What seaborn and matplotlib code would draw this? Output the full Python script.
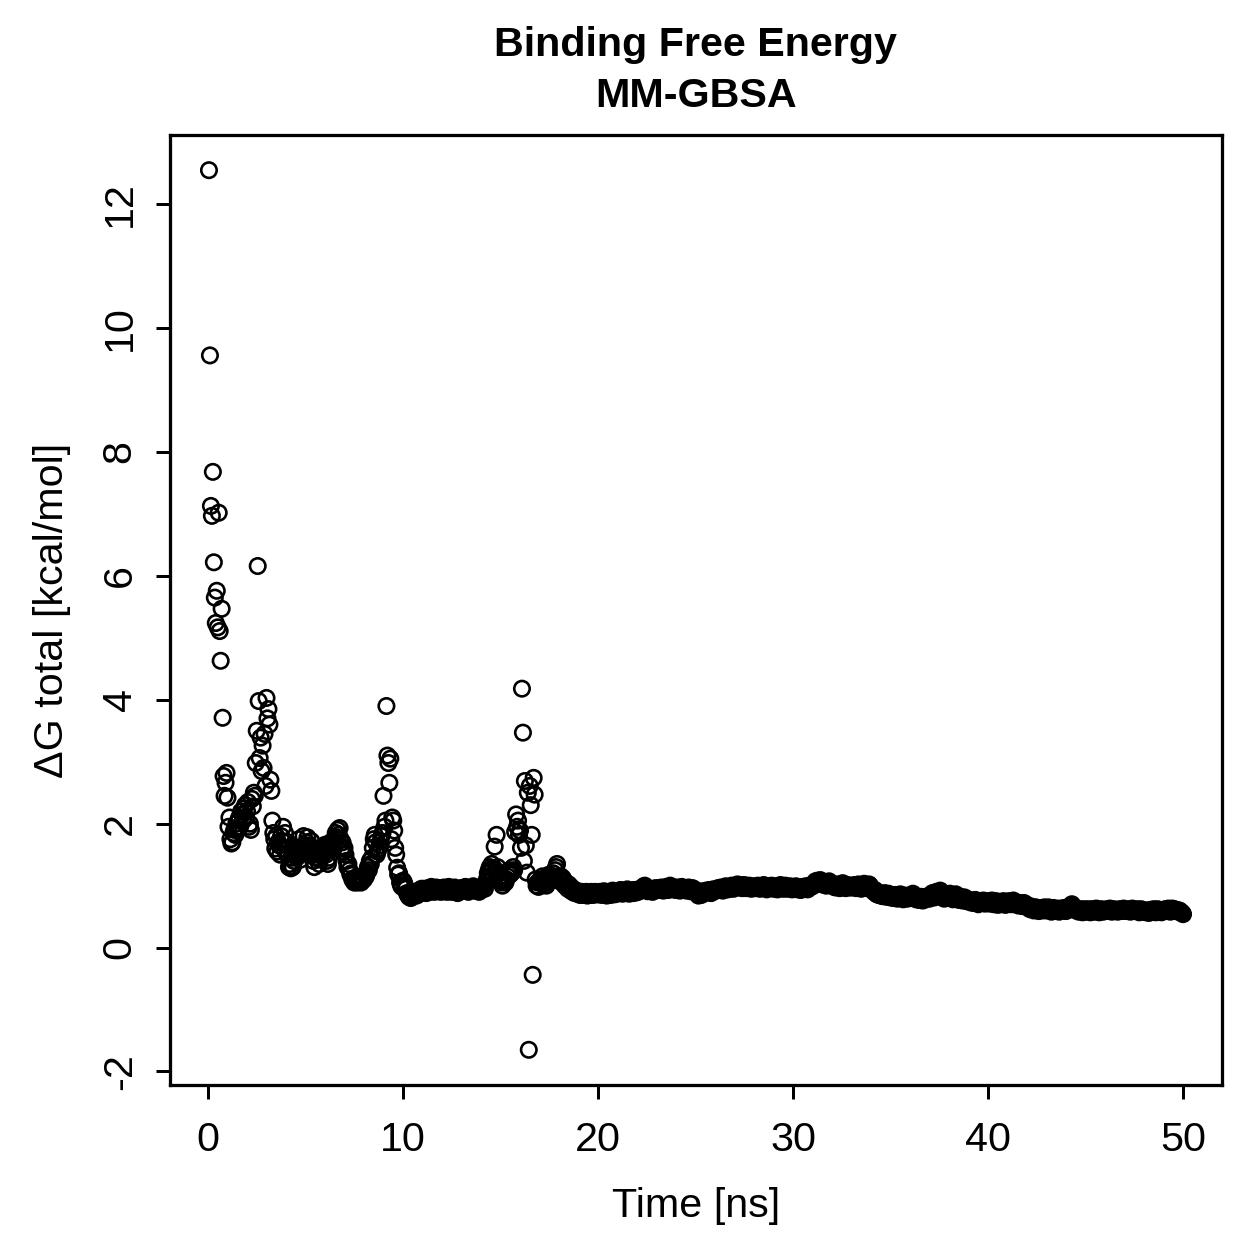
import numpy as np
import pandas as pd
import seaborn as sns
import matplotlib
matplotlib.use("Agg")
import matplotlib.pyplot as plt

# MM-GBSA binding free energy per frame, one frame every 0.05 ns
# (one line below = 1 ns = 20 frames)
dg_total = [
    12.55, 9.56, 7.13, 6.97, 7.68, 6.22, 5.65, 5.24, 5.76, 5.17, 7.02, 5.11, 4.63, 5.47, 3.71, 2.77, 2.45, 2.66, 2.82, 2.42,
    1.95, 2.1, 1.75, 1.68, 1.7, 1.85, 1.9, 1.82, 2.0, 1.9, 2.05, 2.1, 1.95, 2.2, 2.15, 2.05, 2.25, 2.3, 2.1, 2.2,
    2.35, 1.95, 2.0, 1.9, 2.4, 2.28, 2.5, 2.45, 2.98, 3.5, 6.16, 3.98, 3.06, 3.39, 2.85, 3.26, 2.9, 3.45, 2.61, 4.03,
    3.7, 3.85, 3.6, 2.71, 2.53, 2.05, 1.85, 1.75, 1.6, 1.8, 1.55, 1.7, 1.65, 1.5, 1.8, 1.72, 1.95, 1.6, 1.85, 1.7,
    1.5, 1.7, 1.3, 1.35, 1.28, 1.45, 1.3, 1.4, 1.55, 1.5, 1.45, 1.6, 1.75, 1.5, 1.42, 1.55, 1.6, 1.8, 1.65, 1.55,
    1.7, 1.78, 1.55, 1.65, 1.6, 1.72, 1.5, 1.4, 1.3, 1.45, 1.5, 1.6, 1.55, 1.35, 1.42, 1.5, 1.48, 1.62, 1.55, 1.66,
    1.5, 1.4, 1.35, 1.45, 1.58, 1.7, 1.65, 1.72, 1.6, 1.75, 1.85, 1.78, 1.9, 1.82, 1.93, 1.75, 1.6, 1.7, 1.55, 1.61,
    1.5, 1.4, 1.3, 1.35, 1.25, 1.18, 1.2, 1.1, 1.08, 1.05, 1.1, 1.08, 1.05, 1.12, 1.08, 1.1, 1.05, 1.08, 1.12, 1.1,
    1.18, 1.15, 1.2, 1.3, 1.25, 1.4, 1.35, 1.45, 1.61, 1.75, 1.82, 1.7, 1.5, 1.55, 1.6, 1.65, 1.72, 1.8, 1.85, 2.45,
    1.95, 2.05, 3.9, 3.1, 2.98, 2.66, 3.05, 1.75, 2.1, 2.05, 1.89, 1.61, 1.5, 1.29, 1.18, 1.2, 1.05, 1.0, 0.98, 1.08,
    1.05, 1.0, 0.95, 0.88, 0.85, 0.82, 0.85, 0.8, 0.83, 0.88, 0.85, 0.9, 0.86, 0.84, 0.88, 0.92, 0.87, 0.9, 0.95, 0.92,
    0.9, 0.95, 0.92, 0.88, 0.93, 0.96, 0.9, 0.94, 0.98, 0.92, 0.95, 0.9, 0.93, 0.97, 0.94, 0.91, 0.96, 0.93, 0.9, 0.95,
    0.93, 0.97, 0.95, 0.92, 0.9, 0.94, 0.98, 0.96, 0.93, 0.9, 0.92, 0.95, 0.97, 0.94, 0.9, 0.88, 0.92, 0.95, 0.93, 0.96,
    0.94, 0.92, 0.95, 0.98, 0.96, 0.93, 0.9, 0.92, 0.95, 0.93, 0.97, 0.99, 0.95, 0.92, 0.94, 0.96, 0.93, 0.9, 0.92, 0.95,
    0.95, 0.98, 1.0, 0.95, 1.05, 1.1, 1.2, 1.25, 1.3, 1.22, 1.35, 1.28, 1.15, 1.63, 1.25, 1.82, 1.3, 1.2, 1.1, 1.15,
    1.05, 1.0, 1.08, 1.12, 1.05, 1.1, 1.15, 1.2, 1.25, 1.18, 1.2, 1.22, 1.3, 1.25, 1.87, 2.15, 1.95, 2.05, 1.82, 1.89,
    1.61, 4.18, 3.47, 1.4, 2.69, 1.65, 1.21, 2.5, -1.65, 2.61, 2.3, 1.82, -0.44, 2.74, 2.47, 1.1, 1.0, 1.05, 0.98, 1.08,
    1.05, 1.1, 1.15, 1.02, 1.08, 1.12, 1.0, 1.05, 1.1, 1.18, 1.12, 1.08, 1.15, 1.2, 1.1, 1.25, 1.3, 1.35, 1.15, 1.08,
    1.1, 1.15, 1.05, 1.12, 1.08, 1.0, 1.05, 0.98, 0.95, 1.02, 0.95, 0.92, 0.97, 0.9, 0.93, 0.88, 0.9, 0.92, 0.88, 0.86,
    0.88, 0.85, 0.9, 0.87, 0.85, 0.88, 0.86, 0.9, 0.84, 0.87, 0.85, 0.88, 0.9, 0.86, 0.85, 0.88, 0.9, 0.87, 0.86, 0.89,
    0.86, 0.9, 0.88, 0.85, 0.87, 0.91, 0.89, 0.86, 0.84, 0.88, 0.9, 0.87, 0.85, 0.89, 0.92, 0.88, 0.86, 0.9, 0.87, 0.89,
    0.88, 0.91, 0.93, 0.89, 0.87, 0.9, 0.92, 0.88, 0.91, 0.94, 0.9, 0.87, 0.89, 0.92, 0.9, 0.88, 0.93, 0.91, 0.89, 0.92,
    0.9, 0.93, 0.95, 0.92, 0.94, 0.97, 0.99, 1.0, 0.96, 0.93, 0.91, 0.94, 0.92, 0.95, 0.93, 0.9, 0.92, 0.94, 0.96, 0.93,
    0.94, 0.96, 0.93, 0.95, 0.97, 0.95, 0.92, 0.94, 0.96, 0.98, 0.95, 0.93, 0.97, 1.0, 0.98, 0.96, 0.94, 0.97, 0.95, 0.93,
    0.95, 0.97, 0.94, 0.92, 0.96, 0.98, 0.95, 0.93, 0.96, 0.94, 0.92, 0.95, 0.97, 0.93, 0.91, 0.94, 0.96, 0.92, 0.9, 0.93,
    0.9, 0.87, 0.84, 0.86, 0.88, 0.85, 0.89, 0.91, 0.88, 0.9, 0.92, 0.89, 0.91, 0.93, 0.9, 0.88, 0.92, 0.94, 0.91, 0.93,
    0.92, 0.94, 0.96, 0.93, 0.95, 0.97, 0.94, 0.92, 0.95, 0.97, 0.99, 0.96, 0.94, 0.97, 0.95, 0.98, 1.0, 0.97, 0.95, 0.98,
    1.0, 0.98, 1.02, 0.99, 0.97, 1.01, 0.98, 0.96, 0.99, 1.01, 0.98, 0.96, 0.99, 0.97, 1.0, 0.98, 0.95, 0.97, 0.99, 0.96,
    0.98, 0.96, 0.99, 1.0, 0.97, 0.95, 0.98, 0.96, 0.99, 1.01, 0.98, 0.96, 0.94, 0.97, 0.99, 0.96, 0.98, 1.0, 0.97, 0.95,
    0.97, 0.99, 0.96, 0.94, 0.97, 0.99, 1.01, 0.98, 0.96, 0.95, 0.98, 1.0, 0.97, 0.95, 0.98, 0.96, 0.99, 0.97, 0.94, 0.96,
    0.95, 0.97, 0.99, 0.96, 0.94, 0.97, 0.95, 0.93, 0.96, 0.98, 0.95, 0.97, 0.99, 0.96, 0.94, 0.97, 1.0, 0.98, 1.01, 0.99,
    1.02, 1.04, 1.07, 1.05, 1.08, 1.03, 1.06, 1.09, 1.05, 1.02, 1.04, 1.06, 1.03, 1.0, 1.02, 1.05, 1.07, 1.04, 1.01, 1.03,
    1.0, 0.98, 1.01, 0.97, 0.99, 1.02, 0.98, 0.96, 0.99, 1.01, 1.04, 1.0, 0.98, 0.96, 0.99, 1.01, 0.98, 0.97, 1.0, 0.98,
    0.97, 0.99, 1.01, 0.98, 0.96, 0.99, 1.02, 1.0, 0.97, 0.95, 0.98, 1.0, 1.03, 1.01, 0.98, 0.96, 0.99, 1.02, 1.0, 0.97,
    0.95, 0.92, 0.9, 0.93, 0.88, 0.86, 0.89, 0.85, 0.87, 0.84, 0.86, 0.83, 0.85, 0.88, 0.84, 0.82, 0.85, 0.87, 0.83, 0.81,
    0.84, 0.82, 0.8, 0.83, 0.85, 0.81, 0.79, 0.82, 0.84, 0.86, 0.83, 0.8, 0.78, 0.81, 0.84, 0.82, 0.79, 0.81, 0.83, 0.8,
    0.82, 0.84, 0.87, 0.83, 0.8, 0.78, 0.81, 0.79, 0.77, 0.8, 0.82, 0.78, 0.76, 0.79, 0.81, 0.78, 0.8, 0.83, 0.81, 0.79,
    0.82, 0.85, 0.88, 0.84, 0.81, 0.86, 0.9, 0.87, 0.83, 0.85, 0.92, 0.88, 0.84, 0.81, 0.79, 0.83, 0.86, 0.82, 0.8, 0.84,
    0.87, 0.83, 0.8, 0.78, 0.81, 0.84, 0.86, 0.82, 0.79, 0.77, 0.8, 0.82, 0.78, 0.76, 0.79, 0.81, 0.77, 0.75, 0.78, 0.76,
    0.75, 0.73, 0.76, 0.74, 0.72, 0.75, 0.77, 0.74, 0.72, 0.7, 0.73, 0.75, 0.72, 0.74, 0.76, 0.73, 0.71, 0.74, 0.72, 0.75,
    0.73, 0.71, 0.74, 0.76, 0.72, 0.7, 0.73, 0.75, 0.72, 0.69, 0.71, 0.74, 0.72, 0.7, 0.73, 0.75, 0.71, 0.69, 0.72, 0.74,
    0.72, 0.75, 0.73, 0.7, 0.74, 0.76, 0.72, 0.7, 0.73, 0.71, 0.68, 0.7, 0.72, 0.69, 0.67, 0.7, 0.72, 0.68, 0.66, 0.69,
    0.67, 0.65, 0.62, 0.64, 0.66, 0.63, 0.6, 0.62, 0.65, 0.63, 0.61, 0.59, 0.62, 0.64, 0.61, 0.6, 0.63, 0.65, 0.62, 0.6,
    0.62, 0.65, 0.63, 0.6, 0.58, 0.61, 0.64, 0.62, 0.59, 0.61, 0.63, 0.6, 0.58, 0.61, 0.63, 0.6, 0.62, 0.64, 0.61, 0.59,
    0.61, 0.64, 0.66, 0.63, 0.68, 0.7, 0.67, 0.64, 0.62, 0.6, 0.63, 0.61, 0.58, 0.6, 0.62, 0.59, 0.57, 0.6, 0.62, 0.59,
    0.58, 0.6, 0.62, 0.59, 0.57, 0.6, 0.62, 0.61, 0.58, 0.6, 0.63, 0.61, 0.59, 0.57, 0.6, 0.62, 0.6, 0.58, 0.61, 0.59,
    0.6, 0.62, 0.59, 0.61, 0.63, 0.6, 0.58, 0.6, 0.62, 0.59, 0.61, 0.6, 0.58, 0.6, 0.62, 0.6, 0.59, 0.61, 0.63, 0.6,
    0.61, 0.59, 0.6, 0.62, 0.6, 0.58, 0.61, 0.63, 0.6, 0.59, 0.61, 0.6, 0.62, 0.59, 0.57, 0.6, 0.62, 0.6, 0.58, 0.6,
    0.59, 0.57, 0.6, 0.58, 0.56, 0.59, 0.61, 0.58, 0.6, 0.62, 0.59, 0.57, 0.6, 0.62, 0.6, 0.58, 0.6, 0.57, 0.59, 0.61,
    0.6, 0.62, 0.59, 0.61, 0.63, 0.6, 0.58, 0.61, 0.63, 0.6, 0.62, 0.59, 0.61, 0.6, 0.58, 0.6, 0.59, 0.57, 0.56, 0.54,
]
frame_step_ns = 0.05
x_ticks = [0, 10, 20, 30, 40, 50]
y_ticks = [-2, 0, 2, 4, 6, 8, 10, 12]

time_ns = np.arange(1, len(dg_total) + 1) * frame_step_ns
df = pd.DataFrame({"time": time_ns, "dg": dg_total})

sns.set_style("ticks")
plt.rcParams['font.family'] = ['Liberation Sans', 'DejaVu Sans']
plt.rcParams['text.color'] = 'black'
plt.rcParams['axes.labelcolor'] = 'black'

fig = plt.figure(figsize=(1259 / 180, 1259 / 180), dpi=180)
ax = fig.add_axes([170 / 1259, 1 - 1085 / 1259, (1222 - 170) / 1259, (1085 - 135) / 1259])

sns.scatterplot(data=df, x="time", y="dg", ax=ax, marker="o", s=38,
                facecolor="none", edgecolor="black", linewidth=1.05)

# R style limits: data range + 4%
xr = time_ns.max() - time_ns.min()
yr = max(dg_total) - min(dg_total)
ax.set_xlim(time_ns.min() - 0.04 * xr, time_ns.max() + 0.04 * xr)
ax.set_ylim(min(dg_total) - 0.04 * yr, max(dg_total) + 0.04 * yr)

ax.set_xticks(x_ticks)
ax.set_yticks(y_ticks)
ax.set_yticklabels([str(v) for v in y_ticks], rotation=90, va="center")
ax.tick_params(axis="x", pad=9)
ax.tick_params(axis="y", pad=7)
ax.tick_params(axis="both", direction="out", length=5.5, width=1.2, labelsize=16.5,
               color="black", labelcolor="black")
for sp in ax.spines.values():
    sp.set_linewidth(1.3)
    sp.set_color("black")

ax.set_xlabel("Time [ns]", fontsize=16.5, labelpad=11, color="black")
ax.set_ylabel("ΔG total [kcal/mol]", fontsize=16.5, labelpad=12, color="black")
ax.set_title("Binding Free Energy\nMM-GBSA", fontsize=16.5, fontweight="bold",
             pad=11, linespacing=1.45, color="black")

fig.savefig("out.png", dpi=180, facecolor="white")
